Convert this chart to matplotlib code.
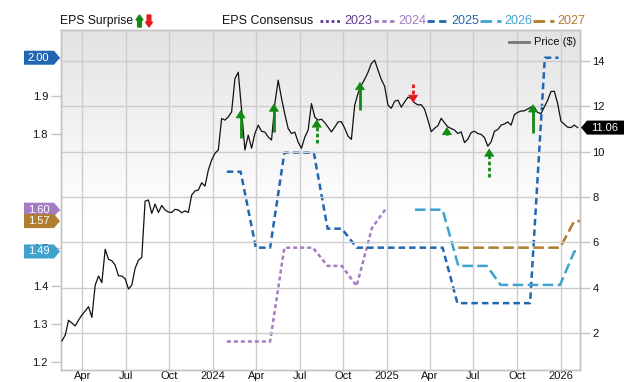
import matplotlib
matplotlib.use("Agg")
import matplotlib.pyplot as plt
from matplotlib.patches import Polygon, FancyArrow
from matplotlib.lines import Line2D
import numpy as np
import pandas as pd

plt.rcParams['font.family'] = ['Liberation Sans', 'DejaVu Sans']

# ---------------- data ----------------
price_start = "2023-02-17"   # weekly closes (Fridays)
price_values = [
    1.66, 1.92, 2.57, 2.45, 2.32, 2.58, 2.80, 2.98, 3.17, 2.70,
    4.12, 4.52, 4.23, 5.70, 5.26, 5.19, 5.00, 4.53, 4.52, 4.40,
    3.95, 4.12, 4.86, 5.22, 5.34, 7.82, 7.87, 7.28, 7.69, 7.32,
    7.63, 7.43, 7.34, 7.32, 7.46, 7.43, 7.31, 7.39, 7.32, 8.09,
    8.27, 8.31, 8.63, 8.48, 9.19, 9.63, 9.93, 10.07, 11.46, 11.39,
    11.53, 11.75, 13.22, 13.50, 11.83, 10.07, 10.73, 10.15, 10.80, 11.17,
    10.90, 10.86, 10.65, 10.51, 12.12, 13.15, 12.35, 11.65, 11.02, 10.80,
    10.86, 10.42, 10.15, 10.64, 10.95, 12.12, 11.52, 11.39, 11.43, 11.28,
    11.08, 10.87, 11.08, 11.31, 11.32, 11.03, 10.68, 10.54, 12.05, 12.57,
    12.93, 13.19, 13.50, 13.88, 14.03, 13.59, 13.18, 12.88, 12.05, 11.91,
    12.22, 12.27, 11.96, 12.19, 12.40, 12.35, 12.15, 12.06, 12.07, 11.87,
    11.39, 10.88, 11.03, 11.14, 11.47, 11.27, 11.09, 11.02, 10.95, 10.80,
    10.87, 10.40, 10.55, 10.84, 10.90, 10.80, 10.76, 10.62, 10.24, 10.43,
    10.90, 10.97, 11.17, 11.22, 11.31, 11.17, 11.63, 11.73, 11.79, 11.80,
    11.88, 11.96, 11.96, 11.72, 11.68, 11.97, 12.27, 12.65, 12.66, 12.12,
    11.34, 11.21, 11.08, 11.06, 11.17, 11.06,
]
last_price = 11.06

cons_2024_dates = ["2024-01-30", "2024-04-30", "2024-05-30", "2024-07-29", "2024-08-29",
                   "2024-09-28", "2024-10-29", "2024-11-30", "2024-12-28"]
cons_2024_vals = [1.253, 1.253, 1.50, 1.50, 1.452, 1.452, 1.399, 1.551, 1.60]

cons_2025_dates = ["2024-01-30", "2024-02-28", "2024-03-31", "2024-04-30", "2024-05-30",
                   "2024-07-31", "2024-08-29", "2024-09-28", "2024-10-29", "2025-04-28",
                   "2025-05-29", "2025-10-29", "2025-11-29", "2025-12-28"]
cons_2025_vals = [1.70, 1.70, 1.50, 1.50, 1.75, 1.75, 1.55, 1.55, 1.50, 1.50,
                  1.354, 1.354, 2.00, 2.00]

cons_2026_dates = ["2025-03-01", "2025-04-28", "2025-05-31", "2025-07-30", "2025-08-28",
                   "2025-12-31", "2026-01-30", "2026-02-04"]
cons_2026_vals = [1.60, 1.60, 1.452, 1.452, 1.402, 1.402, 1.49, 1.49]

cons_2027_dates = ["2025-05-31", "2025-12-31", "2026-01-30", "2026-02-11"]
cons_2027_vals = [1.50, 1.50, 1.57, 1.57]

surprise_dates = ["2024-02-28", "2024-05-08", "2024-08-06", "2024-11-05",
                  "2025-02-25", "2025-05-07", "2025-08-04", "2025-11-04"]
surprise_tail = [10.58, 10.87, 10.36, 11.83, 13.00, 10.73, 8.89, 10.80]
surprise_tip = [11.83, 12.12, 11.42, 13.07, 12.15, 11.09, 10.14, 12.09]
surprise_dotted = [False, False, True, False, True, False, True, False]

tag_labels = ["2.00", "1.60", "1.57", "1.49"]
tag_values = [2.00, 1.60, 1.57, 1.49]

x_tick_dates = ["2023-04-01", "2023-07-01", "2023-10-01", "2024-01-01", "2024-04-01",
                "2024-07-01", "2024-10-01", "2025-01-01", "2025-04-01", "2025-07-01",
                "2025-10-01", "2026-01-01"]
x_tick_labels = ["Apr", "Jul", "Oct", "2024", "Apr", "Jul", "Oct", "2025", "Apr", "Jul",
                 "Oct", "2026"]
eps_ticks = [1.2, 1.3, 1.4, 1.5, 1.6, 1.8, 1.9, 2.0]
eps_tick_labels = ["1.2", "1.3", "1.4", "1.5", "", "1.8", "1.9", ""]
price_ticks = [2, 4, 6, 8, 10, 12, 14]

# ---------------- styles ----------------
C2023 = "#5e3a8c"
C2024 = "#a57cc2"
C2025 = "#2166b3"
C2026 = "#3fa2cf"
C2027 = "#b07c2d"
GREEN = "#138a13"
RED = "#e8191b"
GRID = "#cdcdcd"

W, H = 640, 382
fig = plt.figure(figsize=(W / 100, H / 100), dpi=100)
L, R, T, B = 60.5, 580, 30, 370
pos = [L / W, 1 - B / H, (R - L) / W, (B - T) / H]

# background gradient axes
bg = fig.add_axes(pos, zorder=-1)
grad = np.linspace(0, 1, 256)
shade = np.clip(1 - grad / 0.55, 0, 1)
col = 1.0 - 0.11 * shade
img = np.repeat(np.dstack([col, col, col]).reshape(256, 1, 3), 2, axis=1)
bg.imshow(img, aspect='auto', extent=[0, 1, 0, 1], origin='upper', interpolation='bilinear')
bg.set_xlim(0, 1)
bg.set_ylim(0, 1)
bg.axis('off')

ax = fig.add_axes(pos)
ax.patch.set_visible(False)
ax2 = ax.twinx()
ax2.patch.set_visible(False)

xmin, xmax = pd.Timestamp("2023-02-14"), pd.Timestamp("2026-02-11")
ax.set_xlim(xmin, xmax)
ax.set_ylim(1.178, 2.073)
ax2.set_ylim(0.38, 15.36)

# grids
ax.set_xticks(pd.to_datetime(x_tick_dates))
ax.set_xticklabels(x_tick_labels)
ax.grid(axis='x', color=GRID, lw=1)
ax.set_axisbelow(True)
ax2.set_yticks(price_ticks)
ax2.grid(axis='y', color=GRID, lw=1)
ax2.set_axisbelow(True)

ax.set_yticks(eps_ticks)
ax.set_yticklabels(eps_tick_labels)

for a in (ax, ax2):
    for s in a.spines.values():
        s.set_color("#c4c4c4")
        s.set_linewidth(1)
ax.tick_params(axis='x', length=0, labelsize=8, pad=1, colors='#111111')
ax.tick_params(axis='y', length=7, width=1, color='#c4c4c4', labelsize=8, pad=2,
               labelcolor='#111111')
ax2.tick_params(axis='y', length=7, width=1, color='#c4c4c4', labelsize=8, pad=2,
                labelcolor='#111111')

# consensus lines
def dl(dates):
    return pd.to_datetime(dates)

ax.plot(dl(cons_2024_dates), cons_2024_vals, color=C2024, lw=1.8, ls=(0, (1.6, 1.2)), zorder=3)
ax.plot(dl(cons_2025_dates), cons_2025_vals, color=C2025, lw=1.8, ls=(0, (2.6, 1.6)), zorder=3)
ax.plot(dl(cons_2026_dates), cons_2026_vals, color=C2026, lw=1.8, ls=(0, (4.2, 1.8)), zorder=3)
ax.plot(dl(cons_2027_dates), cons_2027_vals, color=C2027, lw=1.8, ls=(0, (4.2, 1.8)), zorder=3)

# price line
pdates = pd.date_range(price_start, periods=len(price_values), freq="7D")
ax2.plot(pdates, price_values, color="#111111", lw=0.9, zorder=4)

# surprise arrows: shaft + small head
for d, t0, t1, dot in zip(surprise_dates, surprise_tail, surprise_tip, surprise_dotted):
    up = t1 > t0
    c = GREEN if up else RED
    dd = pd.Timestamp(d)
    head = 0.2 if up else -0.2
    ax2.plot([dd, dd], [t0, t1 - head], color=c, lw=2,
             ls=(0, (1.3, 0.9)) if dot else "-", solid_capstyle='butt',
             dash_capstyle='butt', zorder=5)
    ax2.annotate("", xy=(dd, t1), xytext=(0, -6 if up else 6), textcoords='offset points',
                 arrowprops=dict(arrowstyle="-|>,head_length=0.5,head_width=0.32",
                                 mutation_scale=10, color=c, lw=0.6, shrinkA=0, shrinkB=0),
                 zorder=6)

# helpers for figure-pixel drawing
def fx(x):
    return x / W

def fy(y):
    return 1 - y / H

# left tags
tag_colors = [C2025, C2024, C2027, C2026]
fig.canvas.draw()
for lab, v, c in zip(tag_labels, tag_values, tag_colors):
    ydisp = ax.transData.transform((0, v))[1]
    yc = H - ydisp
    pts = [(24, yc - 7), (54, yc - 7), (60, yc), (54, yc + 7), (24, yc + 7)]
    poly = Polygon([(fx(px), fy(py)) for px, py in pts], closed=True, transform=fig.transFigure,
                   facecolor=c, edgecolor='none', zorder=10)
    fig.add_artist(poly)
    fig.text(fx(38.5), fy(yc), lab, color='white', fontsize=8, ha='center', va='center',
             zorder=11)

# right price tag
ydisp = ax2.transData.transform((0, last_price))[1]
yc = H - ydisp
pts = [(581, yc), (587, yc - 7), (624, yc - 7), (624, yc + 7), (587, yc + 7)]
fig.add_artist(Polygon([(fx(px), fy(py)) for px, py in pts], closed=True,
                       transform=fig.transFigure, facecolor='black', edgecolor='none', zorder=10))
fig.text(fx(605), fy(yc), f"{last_price:.2f}", color='white', fontsize=8, ha='center',
         va='center', zorder=11)

# header legend
fig.text(fx(60.5), fy(21), "EPS Surprise", fontsize=8.7, ha='left', va='center', color='#111111')
fig.add_artist(FancyArrow(fx(139.5), fy(27), 0, fy(15) - fy(27), width=2.2 / H, head_width=7 / W,
                          head_length=5 / H, length_includes_head=True, color=GREEN,
                          transform=fig.transFigure))
fig.add_artist(FancyArrow(fx(149), fy(15), 0, fy(27) - fy(15), width=2.2 / H, head_width=7 / W,
                          head_length=5 / H, length_includes_head=True, color=RED,
                          transform=fig.transFigure))
fig.text(fx(222), fy(21), "EPS Consensus", fontsize=9, ha='left', va='center', color='#111111')

legend_items = [("2023", C2023, (0, (1, 1))), ("2024", C2024, (0, (1.6, 1.2))),
                ("2025", C2025, (0, (2.6, 1.6))), ("2026", C2026, (0, (4.2, 1.8))),
                ("2027", C2027, (0, (4.2, 1.8)))]
lx = [320, 374, 427, 480, 533]
for (lab, c, ls), x0 in zip(legend_items, lx):
    fig.add_artist(Line2D([fx(x0), fx(x0 + 21)], [fy(21), fy(21)], color=c, lw=2, ls=ls,
                          transform=fig.transFigure))
    fig.text(fx(x0 + 24), fy(21), lab, fontsize=9, ha='left', va='center', color=c)

# price legend inside plot
fig.add_artist(Line2D([fx(509), fx(529)], [fy(42), fy(42)], color='#777777', lw=2,
                      transform=fig.transFigure, zorder=6))
fig.text(fx(534), fy(42), "Price ($)", fontsize=8, ha='left', va='center', color='#111111',
         zorder=6)

fig.savefig("out.png", dpi=100)
